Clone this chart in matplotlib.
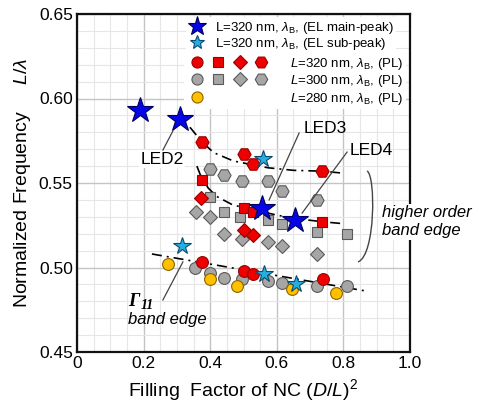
import matplotlib
matplotlib.use("Agg")
import matplotlib.pyplot as plt
from matplotlib.lines import Line2D
from matplotlib.legend_handler import HandlerTuple
from matplotlib.path import Path
from matplotlib.patches import PathPatch
from matplotlib.ticker import MultipleLocator

plt.rcParams['font.family'] = ['Liberation Sans', 'DejaVu Sans']
plt.rcParams['mathtext.fontset'] = 'custom'
plt.rcParams['mathtext.rm'] = 'Liberation Sans'
plt.rcParams['mathtext.it'] = 'Liberation Sans:italic'
plt.rcParams['mathtext.bf'] = 'Liberation Sans:bold'

# ---------------- data ----------------
# EL main peak (L=320 nm), LED1..LED4
el_main_x = [0.19, 0.31, 0.555, 0.655]
el_main_y = [0.593, 0.588, 0.535, 0.528]
# EL sub peak
el_sub_x = [0.315, 0.56, 0.562, 0.658]
el_sub_y = [0.513, 0.564, 0.496, 0.490]

# PL, L=320 nm (red)
r_hex_x = [0.375, 0.50, 0.53, 0.735]
r_hex_y = [0.574, 0.567, 0.561, 0.557]
r_sq_x = [0.375, 0.50, 0.53, 0.735]
r_sq_y = [0.552, 0.535, 0.533, 0.527]
r_dia_x = [0.372, 0.50, 0.53]
r_dia_y = [0.541, 0.522, 0.519]
r_cir_x = [0.376, 0.50, 0.53, 0.738]
r_cir_y = [0.503, 0.498, 0.496, 0.493]

# PL, L=300 nm (grey)
g_hex_x = [0.40, 0.44, 0.495, 0.575, 0.615, 0.72]
g_hex_y = [0.558, 0.555, 0.551, 0.551, 0.545, 0.540]
g_sq_x = [0.40, 0.44, 0.49, 0.575, 0.615, 0.72, 0.81]
g_sq_y = [0.542, 0.533, 0.530, 0.528, 0.526, 0.521, 0.520]
g_dia_x = [0.357, 0.40, 0.44, 0.495, 0.575, 0.615, 0.72]
g_dia_y = [0.533, 0.530, 0.520, 0.517, 0.515, 0.513, 0.508]
g_cir_x = [0.355, 0.40, 0.44, 0.495, 0.575, 0.615, 0.72, 0.81]
g_cir_y = [0.500, 0.497, 0.494, 0.493, 0.492, 0.491, 0.489, 0.489]

# PL, L=280 nm (yellow)
y_cir_x = [0.273, 0.40, 0.48, 0.645, 0.778]
y_cir_y = [0.502, 0.493, 0.489, 0.487, 0.485]

# guide curves
guide_top_x = [0.339, 0.36, 0.375, 0.41, 0.47, 0.574, 0.65, 0.735, 0.79]
guide_top_y = [0.583, 0.578, 0.5745, 0.568, 0.563, 0.559, 0.5575, 0.557, 0.556]
guide_mid_x = [0.36, 0.37, 0.394, 0.42, 0.468, 0.51, 0.556, 0.60, 0.655, 0.74, 0.796]
guide_mid_y = [0.560, 0.555, 0.547, 0.542, 0.537, 0.535, 0.533, 0.531, 0.529, 0.527, 0.526]
guide_bot_x = [0.225, 0.87]
guide_bot_y = [0.508, 0.486]

xticks = [0, 0.2, 0.4, 0.6, 0.8, 1.0]
xticklabels = ['0', '0.2', '0.4', '0.6', '0.8', '1.0']
yticks = [0.45, 0.50, 0.55, 0.60, 0.65]
yticklabels = ['0.45', '0.50', '0.55', '0.60', '0.65']

# ---------------- figure ----------------
fig = plt.figure(figsize=(4.79, 4.04), dpi=100)
ax = fig.add_axes([77/479, 1-352/404, 333/479, 338/404])
ax.set_xlim(0, 1.0)
ax.set_ylim(0.45, 0.65)

ax.xaxis.set_major_locator(MultipleLocator(0.2))
ax.xaxis.set_minor_locator(MultipleLocator(0.05))
ax.yaxis.set_major_locator(MultipleLocator(0.05))
ax.yaxis.set_minor_locator(MultipleLocator(0.01))
ax.set_xticks(xticks)
ax.set_xticklabels(xticklabels, fontsize=12.5)
ax.set_yticks(yticks)
ax.set_yticklabels(yticklabels, fontsize=12.5)
ax.tick_params(which='both', length=0, pad=3)
ax.grid(which='major', color='#c4c4c4', lw=1.0)
ax.grid(which='minor', color='#e6e6e6', lw=0.8)
ax.set_axisbelow(True)
for s in ax.spines.values():
    s.set_linewidth(1.6)
    s.set_color('#111111')

ax.set_xlabel(r'Filling  Factor of NC ($\it{D/L}$)$^2$', fontsize=14, labelpad=4)
ax.set_ylabel(r'Normalized Frequency     $\it{L/\lambda}$', fontsize=14, labelpad=4)

# guide lines
dashdot = (0, (6, 3, 1.2, 3))
ax.plot(guide_top_x, guide_top_y, color='black', lw=1.2, ls=dashdot, zorder=2)
ax.plot(guide_mid_x, guide_mid_y, color='black', lw=1.2, ls=dashdot, zorder=2)
ax.plot(guide_bot_x, guide_bot_y, color='black', lw=1.2, ls=dashdot, zorder=2)

red, red_e = '#ee0000', '#9a0000'
grey, grey_e = '#a6a6a6', '#5a5a5a'
yel, yel_e = '#ffc000', '#8a6400'
blue, blue_e = '#0505e6', '#00005a'
cyan, cyan_e = '#25aee0', '#0a4a70'

kw = dict(ls='none', mew=0.8)
ax.plot(g_hex_x, g_hex_y, 'H', ms=9.5, mfc=grey, mec=grey_e, zorder=3, **kw)
ax.plot(g_sq_x, g_sq_y, 's', ms=7.5, mfc=grey, mec=grey_e, zorder=3, **kw)
ax.plot(g_dia_x, g_dia_y, 'D', ms=7.5, mfc=grey, mec=grey_e, zorder=3, **kw)
ax.plot(g_cir_x, g_cir_y, 'o', ms=8.5, mfc=grey, mec=grey_e, zorder=3, **kw)
ax.plot(r_hex_x, r_hex_y, 'H', ms=9.5, mfc=red, mec=red_e, zorder=4, **kw)
ax.plot(r_sq_x, r_sq_y, 's', ms=7.5, mfc=red, mec=red_e, zorder=4, **kw)
ax.plot(r_dia_x, r_dia_y, 'D', ms=7.5, mfc=red, mec=red_e, zorder=4, **kw)
ax.plot(r_cir_x, r_cir_y, 'o', ms=8.5, mfc=red, mec=red_e, zorder=4, **kw)
ax.plot(y_cir_x, y_cir_y, 'o', ms=8.5, mfc=yel, mec=yel_e, zorder=5, **kw)
ax.plot(el_sub_x, el_sub_y, '*', ms=13, mfc=cyan, mec=cyan_e, zorder=6, **kw)
ax.plot(el_main_x, el_main_y, '*', ms=19, mfc=blue, mec=blue_e, zorder=6, **kw)

# annotations
lc = '#444444'
ax.text(0.255, 0.5642, 'LED2', fontsize=12.5, ha='center', va='center', zorder=7,
        bbox=dict(fc='white', ec='none', pad=1))
ax.plot([0.258, 0.288], [0.5695, 0.5808], color=lc, lw=0.9, zorder=7)
ax.text(0.745, 0.5825, 'LED3', fontsize=12.5, ha='center', va='center', zorder=7)
ax.plot([0.667, 0.577], [0.5796, 0.540], color=lc, lw=0.9, zorder=7)
ax.text(0.884, 0.5695, 'LED4', fontsize=12.5, ha='center', va='center', zorder=7)
ax.plot([0.811, 0.676], [0.5683, 0.5322], color=lc, lw=0.9, zorder=7)
ax.text(0.916, 0.527, 'higher order\nband edge', fontsize=12, style='italic',
        ha='left', va='center', linespacing=1.25, clip_on=False, zorder=8,
        bbox=dict(fc='white', ec='none', pad=1))
verts = [(0.871, 0.5571), (0.897, 0.5547), (0.897, 0.5074), (0.844, 0.5033)]
ax.add_patch(PathPatch(Path(verts, [Path.MOVETO, Path.CURVE4, Path.CURVE4, Path.CURVE4]),
                       fill=False, ec=lc, lw=1.0, zorder=7))
ax.text(0.17, 0.4796, 'Γ', fontsize=13.5, family='Liberation Serif', style='italic',
        weight='bold', ha='center', va='center', zorder=7)
ax.text(0.19, 0.4775, '11', fontsize=10, family='Liberation Serif', style='italic',
        weight='bold', ha='left', va='center', zorder=7)
ax.text(0.153, 0.4695, 'band edge', fontsize=12, style='italic', ha='left', va='center', zorder=7)
ax.plot([0.258, 0.318], [0.4808, 0.5033], color=lc, lw=0.9, zorder=7)

# legends
fs = 9.5
h_main = Line2D([], [], ls='none', marker='*', ms=14, mfc=blue, mec=blue_e, mew=0.8)
h_sub = Line2D([], [], ls='none', marker='*', ms=10, mfc=cyan, mec=cyan_e, mew=0.8)
leg1 = ax.legend([h_main, h_sub],
                 [r'L=320 nm, $\lambda_{\rm B}$, (EL main-peak)',
                  r'L=320 nm, $\lambda_{\rm B}$, (EL sub-peak)'],
                 loc='upper left', bbox_to_anchor=(0.326, 0.990), borderaxespad=0,
                 fontsize=fs, handlelength=1.3, handletextpad=0.71, labelspacing=0.0,
                 borderpad=0.2, frameon=True, fancybox=False, framealpha=1,
                 facecolor='white', edgecolor='none')
leg1.set_zorder(9)
ax.add_artist(leg1)

def mk(m, fc, ec, ms):
    return Line2D([], [], ls='none', marker=m, ms=ms, mfc=fc, mec=ec, mew=0.8)

blank = Line2D([], [], ls='none')
row_r = (mk('o', red, red_e, 8), mk('s', red, red_e, 7), mk('D', red, red_e, 7), mk('H', red, red_e, 9))
row_g = (mk('o', grey, grey_e, 8), mk('s', grey, grey_e, 7), mk('D', grey, grey_e, 7), mk('H', grey, grey_e, 9))
row_y = (mk('o', yel, yel_e, 8), blank, blank, blank)
leg2 = ax.legend([row_r, row_g, row_y],
                 [r'$\it{L}$=320 nm, $\lambda_{\rm B}$, (PL)',
                  r'$\it{L}$=300 nm, $\lambda_{\rm B}$, (PL)',
                  r'$\it{L}$=280 nm, $\lambda_{\rm B}$, (PL)'],
                 handler_map={tuple: HandlerTuple(ndivide=4, pad=0)},
                 loc='upper left', bbox_to_anchor=(0.320, 0.885), borderaxespad=0,
                 fontsize=fs, handlelength=6.5, handletextpad=1.36, labelspacing=0.12,
                 borderpad=0.2, frameon=True, fancybox=False, framealpha=1,
                 facecolor='white', edgecolor='none')
leg2.set_zorder(9)

fig.savefig('out.png', dpi=100)
